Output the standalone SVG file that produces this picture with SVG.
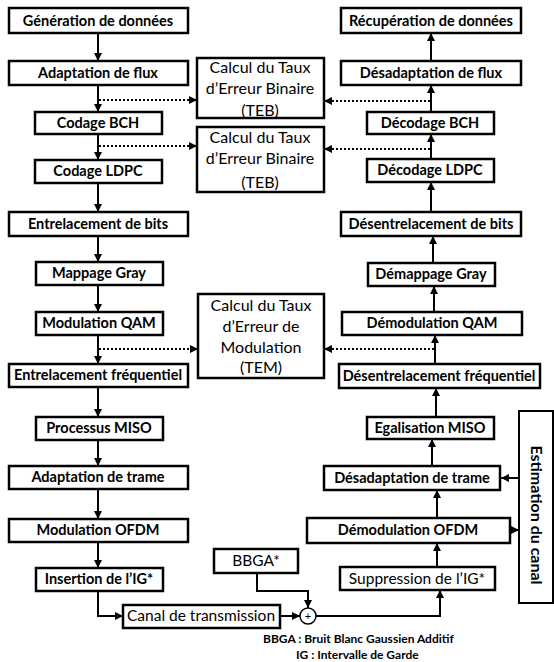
<svg xmlns="http://www.w3.org/2000/svg" width="554" height="662" viewBox="0 0 554 662">
<defs>
<marker id="ah" viewBox="0 0 10 10" refX="10" refY="5" markerWidth="4" markerHeight="4" orient="auto" markerUnits="strokeWidth">
<path d="M0,0 L10,5 L0,10 z" fill="#000"/>
</marker>
<style>
rect.b{fill:#fff;stroke:#000;stroke-width:2.5}
text{font-family:Lato,"Open Sans","Liberation Sans",sans-serif;font-weight:bold;font-size:14.5px;fill:#000;text-anchor:middle}
text.n{font-weight:normal;font-size:15.5px}
text.m{font-weight:normal;font-size:16px}
text.lg{font-size:12px;text-anchor:start}
.c{fill:none;stroke:#000;stroke-width:2}
.d{fill:none;stroke:#000;stroke-width:2;stroke-dasharray:2,2}
</style>
</defs>
<rect width="554" height="662" fill="#fff"/>

<g id="connectors">
<line class="c" x1="98" y1="33" x2="98" y2="61" marker-end="url(#ah)"/>
<line class="c" x1="98" y1="85" x2="98" y2="112" marker-end="url(#ah)"/>
<line class="c" x1="98" y1="134" x2="98" y2="160" marker-end="url(#ah)"/>
<line class="c" x1="98" y1="183" x2="98" y2="212" marker-end="url(#ah)"/>
<line class="c" x1="98" y1="236" x2="98" y2="262" marker-end="url(#ah)"/>
<line class="c" x1="98" y1="285" x2="98" y2="312" marker-end="url(#ah)"/>
<line class="c" x1="98" y1="335" x2="98" y2="364" marker-end="url(#ah)"/>
<line class="c" x1="98" y1="387" x2="98" y2="417" marker-end="url(#ah)"/>
<line class="c" x1="98" y1="440" x2="98" y2="466" marker-end="url(#ah)"/>
<line class="c" x1="98" y1="489" x2="98" y2="519" marker-end="url(#ah)"/>
<line class="c" x1="98" y1="542" x2="98" y2="568" marker-end="url(#ah)"/>
<polyline class="c" points="98,591 98,616 123,616" marker-end="url(#ah)"/>
<line class="c" x1="280" y1="616" x2="300" y2="616" marker-end="url(#ah)"/>
<polyline class="c" points="257,573 257,591 308,591 308,608" marker-end="url(#ah)"/>
<polyline class="c" points="316,616 440,616 440,590" marker-end="url(#ah)"/>
<line class="c" x1="437" y1="567" x2="437" y2="543" marker-end="url(#ah)"/>
<line class="c" x1="437" y1="518" x2="437" y2="490" marker-end="url(#ah)"/>
<line class="c" x1="432" y1="466" x2="432" y2="439" marker-end="url(#ah)"/>
<line class="c" x1="436" y1="417" x2="436" y2="388" marker-end="url(#ah)"/>
<line class="c" x1="435" y1="364" x2="435" y2="335" marker-end="url(#ah)"/>
<line class="c" x1="434" y1="312" x2="434" y2="286" marker-end="url(#ah)"/>
<line class="c" x1="433" y1="263" x2="433" y2="236" marker-end="url(#ah)"/>
<line class="c" x1="431" y1="212" x2="431" y2="182" marker-end="url(#ah)"/>
<line class="c" x1="431" y1="159" x2="431" y2="134" marker-end="url(#ah)"/>
<line class="c" x1="431" y1="112" x2="431" y2="85" marker-end="url(#ah)"/>
<line class="c" x1="431" y1="61" x2="431" y2="33" marker-end="url(#ah)"/>
<line class="c" x1="519" y1="478" x2="501" y2="478" marker-end="url(#ah)"/>
<line class="c" x1="510" y1="530" x2="519" y2="530" marker-end="url(#ah)"/>
<line class="d" x1="99" y1="100" x2="197" y2="100" marker-end="url(#ah)"/>
<line class="d" x1="99" y1="146" x2="197" y2="146" marker-end="url(#ah)"/>
<line class="d" x1="99" y1="349" x2="198" y2="349" marker-end="url(#ah)"/>
<line class="d" x1="430" y1="101" x2="324" y2="101" marker-end="url(#ah)"/>
<line class="d" x1="430" y1="149" x2="324" y2="149" marker-end="url(#ah)"/>
<line class="d" x1="434" y1="349" x2="324" y2="349" marker-end="url(#ah)"/>
</g>

<g id="gen"><rect class="b" x="9" y="8" width="179" height="25"/><text x="98" y="26">Génération de données</text></g>
<g id="adflux"><rect class="b" x="9" y="61" width="179" height="24"/><text x="98" y="78">Adaptation de flux</text></g>
<g id="bch"><rect class="b" x="35" y="112" width="127" height="22"/><text x="98" y="128">Codage BCH</text></g>
<g id="ldpc"><rect class="b" x="35" y="160" width="127" height="23"/><text x="98" y="176">Codage LDPC</text></g>
<g id="entbits"><rect class="b" x="9" y="212" width="179" height="24"/><text x="98" y="229">Entrelacement de bits</text></g>
<g id="gray"><rect class="b" x="36" y="262" width="127" height="23"/><text x="99" y="278">Mappage Gray</text></g>
<g id="qam"><rect class="b" x="36" y="312" width="127" height="23"/><text x="99" y="328">Modulation QAM</text></g>
<g id="entfreq"><rect class="b" x="9" y="364" width="179" height="23"/><text x="98" y="380">Entrelacement fréquentiel</text></g>
<g id="miso"><rect class="b" x="36" y="417" width="127" height="23"/><text x="99" y="433">Processus MISO</text></g>
<g id="adtrame"><rect class="b" x="9" y="466" width="179" height="23"/><text x="98" y="482">Adaptation de trame</text></g>
<g id="ofdm"><rect class="b" x="9" y="519" width="179" height="23"/><text x="98" y="535">Modulation OFDM</text></g>
<g id="insig"><rect class="b" x="36" y="568" width="127" height="23"/><text x="99" y="584">Insertion de l’IG*</text></g>
<g id="canal"><rect class="b" x="123" y="605" width="157" height="23"/><text class="n" x="201" y="621">Canal de transmission</text></g>
<g id="bbga"><rect class="b" x="214" y="549" width="84" height="24"/><text class="n" x="256" y="566">BBGA*</text></g>
<g id="sum"><circle cx="308" cy="616" r="8" fill="#fff" stroke="#000" stroke-width="1.5"/><text x="308" y="620" style="font-size:11px;font-weight:normal">+</text></g>

<g id="teb1"><rect class="b" x="197" y="58" width="127" height="60"/><text class="m" x="260" y="73">Calcul du Taux</text><text class="m" x="260" y="94">d’Erreur Binaire</text><text class="m" x="260" y="116">(TEB)</text></g>
<g id="teb2"><rect class="b" x="197" y="127" width="127" height="65"/><text class="m" x="260" y="143">Calcul du Taux</text><text class="m" x="260" y="164">d’Erreur Binaire</text><text class="m" x="260" y="188">(TEB)</text></g>
<g id="tem"><rect class="b" x="198" y="294" width="126" height="84"/><text class="m" x="261" y="311">Calcul du Taux</text><text class="m" x="261" y="332">d’Erreur de</text><text class="m" x="261" y="353">Modulation</text><text class="m" x="261" y="373">(TEM)</text></g>

<g id="recup"><rect class="b" x="341" y="8" width="180" height="25"/><text x="431" y="26">Récupération de données</text></g>
<g id="desflux"><rect class="b" x="341" y="61" width="180" height="24"/><text x="431" y="78">Désadaptation de flux</text></g>
<g id="dbch"><rect class="b" x="367" y="112" width="127" height="22"/><text x="430" y="128">Décodage BCH</text></g>
<g id="dldpc"><rect class="b" x="367" y="159" width="127" height="23"/><text x="430" y="175">Décodage LDPC</text></g>
<g id="desbits"><rect class="b" x="341" y="212" width="180" height="24"/><text x="431" y="229">Désentrelacement de bits</text></g>
<g id="dgray"><rect class="b" x="368" y="263" width="127" height="23"/><text x="431" y="279">Démappage Gray</text></g>
<g id="dqam"><rect class="b" x="342" y="312" width="180" height="23"/><text x="432" y="328">Démodulation QAM</text></g>
<g id="desfreq"><rect class="b" x="339" y="364" width="201" height="24"/><text x="439" y="381">Désentrelacement fréquentiel</text></g>
<g id="egal"><rect class="b" x="367" y="417" width="127" height="22"/><text x="430" y="433">Egalisation MISO</text></g>
<g id="destrame"><rect class="b" x="324" y="466" width="176" height="24"/><text x="412" y="483">Désadaptation de trame</text></g>
<g id="dofdm"><rect class="b" x="307" y="518" width="203" height="25"/><text x="408" y="535">Démodulation OFDM</text></g>
<g id="supig"><rect class="b" x="340" y="567" width="155" height="23"/><text class="n" x="417" y="584">Suppression de l’IG*</text></g>
<g id="estim"><rect x="519" y="411" width="34" height="192" fill="#fff" stroke="#000" stroke-width="2"/><text x="0" y="0" style="font-size:16px" transform="translate(531,515) rotate(90)">Estimation du canal</text></g>

<g id="legend">
<text class="lg" x="263" y="643">BBGA : Bruit Blanc Gaussien Additif</text>
<text class="lg" x="296" y="659">IG : Intervalle de Garde</text>
</g>
</svg>
